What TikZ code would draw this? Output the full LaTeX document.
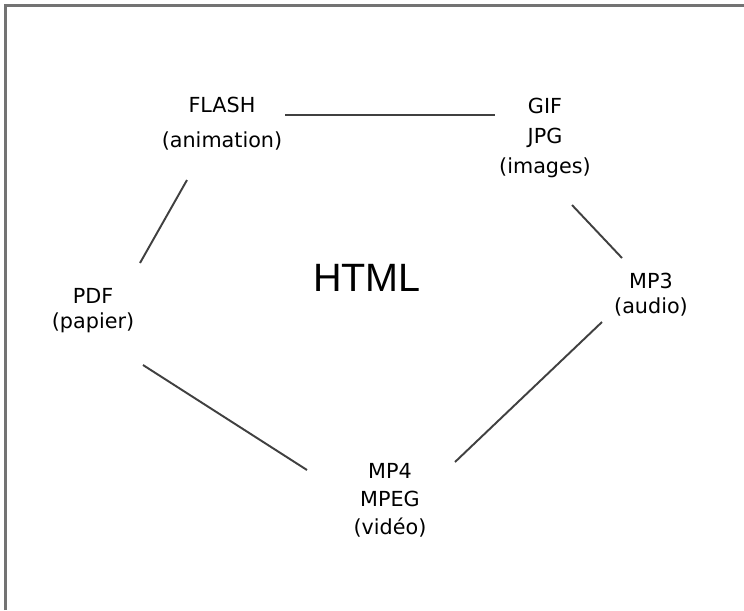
\documentclass[tikz,border=0pt]{standalone}
\usepackage{fontspec}
\setmainfont{DejaVu Sans}
\newfontfamily\titlefont{Liberation Sans}
\usetikzlibrary{calc}

\begin{document}
\begin{tikzpicture}[x=0.02cm,y=-0.02cm,
    lbl/.style={align=center,inner sep=0pt,font=\fontsize{11.8}{16}\selectfont},
    link/.style={line width=1.1pt,draw=black!75}]
       \useasboundingbox(0,0)rectangle(744,610);%枠
       \draw[line width=1.4pt,draw=black!55](5.5,610)--(5.5,5.5)--(744,5.5);%外枠

       \node[font=\titlefont\fontsize{22.5}{28}\selectfont](html)at(367,278){HTML};%中央
       \node[lbl](flash)at(222,124){FLASH\\[3.8pt](animation)};%FLASH
       \node[lbl](gif)at(545,138){GIF\\[1pt]JPG\\[1pt](images)};%画像
       \node[lbl](mp3)at(651,295){MP3\\[-1.8pt](audio)};%音声
       \node[lbl](mp4)at(390,500){MP4\\MPEG\\(vidéo)};%動画
       \node[lbl](pdf)at(93,311){PDF\\[-1.8pt](papier)};%紙

       \coordinate(flashE)at([shift={(63,-9)}]flash.center);
       \coordinate(flashS)at([shift={(-35,56)}]flash.center);
       \coordinate(gifW)at([shift={(-50,-23)}]gif.center);
       \coordinate(gifS)at([shift={(27,67)}]gif.center);
       \coordinate(mp3N)at([shift={(-29,-37)}]mp3.center);
       \coordinate(mp3S)at([shift={(-49,27)}]mp3.center);
       \coordinate(mp4E)at([shift={(65,-38)}]mp4.center);
       \coordinate(mp4W)at([shift={(-83,-30)}]mp4.center);
       \coordinate(pdfN)at([shift={(47,-48)}]pdf.center);
       \coordinate(pdfS)at([shift={(50,54)}]pdf.center);

       \draw[link](flashE)--(gifW);%FLASH-GIF
       \draw[link](gifS)--(mp3N);%GIF-MP3
       \draw[link](mp3S)--(mp4E);%MP3-MP4
       \draw[link](mp4W)--(pdfS);%MP4-PDF
       \draw[link](pdfN)--(flashS);%PDF-FLASH
      \end{tikzpicture}
\end{document}
